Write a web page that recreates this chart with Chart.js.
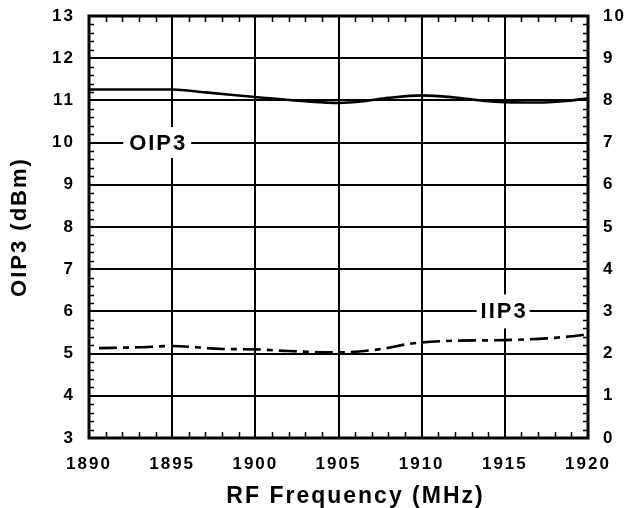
<!DOCTYPE html>
<html><head><meta charset="utf-8">
<script src="https://cdn.jsdelivr.net/npm/chart.js@4.4.1/dist/chart.umd.min.js"></script>
<style>html,body{margin:0;padding:0;background:#fff}#wrap{width:627px;height:508px;position:relative}</style>
</head><body><div id="wrap"><canvas id="c"></canvas></div>
<script>
// ---- data ----
const oipFreq = [1890, 1892, 1895, 1897, 1900, 1903, 1905, 1906.5, 1908, 1910, 1912, 1914, 1915, 1917, 1918.5, 1920];
const oipVals = [11.26, 11.26, 11.26, 11.19, 11.08, 10.98, 10.94, 10.98, 11.06, 11.12, 11.07, 10.98, 10.96, 10.95, 10.98, 11.05];
const iipFreq = [1890.6, 1893, 1895, 1898, 1900, 1902, 1905, 1907.4, 1909.4, 1911.5, 1915, 1917.5, 1919, 1920];
const iipVals = [2.13, 2.15, 2.18, 2.11, 2.10, 2.06, 2.03, 2.10, 2.24, 2.30, 2.32, 2.36, 2.41, 2.46];
const xTickValues = [1890, 1895, 1900, 1905, 1910, 1915, 1920];
const leftTickValues = [3, 4, 5, 6, 7, 8, 9, 10, 11, 12, 13];
const rightTickValues = [0, 1, 2, 3, 4, 5, 6, 7, 8, 9, 10];
const xTitle = 'RF Frequency (MHz)';
const yTitle = 'OIP3 (dBm)';
const seriesLabels = [
  { text: 'OIP3', x: 1894.1, y: 10, axis: 'y', w: 68, h: 31 },
  { text: 'IIP3', x: 1914.9, y: 3, axis: 'y2', w: 53, h: 34 }
];

const FONT = '"Liberation Sans", Arial, sans-serif';

const spacingPlugin = {
  id: 'spacing',
  beforeDraw(chart) { chart.ctx.letterSpacing = '2px'; }
};

const decorPlugin = {
  id: 'decor',
  afterDraw(chart) {
    const ctx = chart.ctx, a = chart.chartArea;
    const xs = chart.scales.x, ys = chart.scales.y, y2 = chart.scales.y2;
    ctx.save();
    ctx.strokeStyle = '#000';
    ctx.lineWidth = 1.5;
    ctx.beginPath();
    for (let f = xs.min + 1; f < xs.max; f++) {
      if (f % 5 === 0) continue;
      const px = Math.round(xs.getPixelForValue(f)) + 0.5;
      ctx.moveTo(px, a.top); ctx.lineTo(px, a.top + 6);
      ctx.moveTo(px, a.bottom); ctx.lineTo(px, a.bottom - 6);
    }
    for (let i = 1; i < 50; i++) {
      if (i % 5 === 0) continue;
      const v = ys.min + i * 0.2;
      const py = Math.round(ys.getPixelForValue(v)) + 0.5;
      ctx.moveTo(a.left, py); ctx.lineTo(a.left + 5, py);
      const v2 = y2.min + i * 0.2;
      const py2 = Math.round(y2.getPixelForValue(v2)) + 0.5;
      ctx.moveTo(a.right, py2); ctx.lineTo(a.right - 5, py2);
    }
    ctx.stroke();
    ctx.lineWidth = 3;
    ctx.strokeRect(a.left, a.top, a.right - a.left, a.bottom - a.top);
    ctx.fillStyle = '#000';
    ctx.textAlign = 'center';
    ctx.textBaseline = 'middle';
    // x axis title
    ctx.font = 'bold 23px ' + FONT;
    ctx.letterSpacing = '2px';
    ctx.fillText(xTitle, (a.left + a.right) / 2 + 17, 497);
    // series labels
    ctx.font = 'bold 22px ' + FONT;
    for (const l of seriesLabels) {
      const px = xs.getPixelForValue(l.x);
      const py = chart.scales[l.axis].getPixelForValue(l.y);
      ctx.fillStyle = '#fff';
      ctx.fillRect(px - l.w / 2, py - l.h / 2, l.w, l.h);
      ctx.fillStyle = '#000';
      ctx.fillText(l.text, px + 1, py + 1);
    }
    ctx.restore();
  }
};

const tickFont = { family: FONT, size: 17, weight: 'bold' };
const fitVertical = w => s => { s.width = w; s.paddingTop = 0; s.paddingBottom = 0; };

new Chart(document.getElementById('c'), {
  type: 'line',
  data: {
    datasets: [
      {
        label: 'OIP3',
        data: oipFreq.map((f, i) => ({ x: f, y: oipVals[i] })),
        yAxisID: 'y',
        borderColor: '#000',
        borderWidth: 2.6,
        pointRadius: 0,
        cubicInterpolationMode: 'monotone',
        fill: false
      },
      {
        label: 'IIP3',
        data: iipFreq.map((f, i) => ({ x: f, y: iipVals[i] })),
        yAxisID: 'y2',
        borderColor: '#000',
        borderWidth: 2.6,
        borderDash: [18, 6, 6, 6],
        pointRadius: 0,
        cubicInterpolationMode: 'monotone',
        fill: false
      }
    ]
  },
  options: {
    responsive: true,
    maintainAspectRatio: false,
    animation: false,
    layout: { padding: { top: 16, right: 0, left: 0, bottom: 0 } },
    plugins: { legend: { display: false }, tooltip: { enabled: false } },
    scales: {
      x: {
        type: 'linear',
        min: 1890, max: 1920,
        afterBuildTicks: s => { s.ticks = xTickValues.map(v => ({ value: v })); },
        afterFit: s => { s.height = 70; },
        ticks: { color: '#000', font: tickFont, padding: 16, maxRotation: 0, autoSkip: false, callback: v => String(v) },
        grid: { color: '#000', lineWidth: 2, drawTicks: false },
        border: { display: false },
        title: { display: false }
      },
      y: {
        position: 'left',
        min: 3, max: 13,
        afterBuildTicks: s => { s.ticks = leftTickValues.map(v => ({ value: v })); },
        afterFit: fitVertical(89),
        ticks: { color: '#000', font: tickFont, padding: 14, callback: v => String(v) },
        grid: { color: '#000', lineWidth: 2, drawTicks: false },
        border: { display: false },
        title: { display: true, text: yTitle, color: '#000', font: { family: FONT, size: 22, weight: 'bold', lineHeight: 1 }, padding: { top: 9, bottom: 0 } }
      },
      y2: {
        position: 'right',
        min: 0, max: 10,
        afterBuildTicks: s => { s.ticks = rightTickValues.map(v => ({ value: v })); },
        afterFit: fitVertical(39),
        ticks: { color: '#000', font: tickFont, padding: 15, callback: v => String(v) },
        grid: { drawOnChartArea: false, drawTicks: false },
        border: { display: false }
      }
    }
  },
  plugins: [spacingPlugin, decorPlugin]
});
</script>
</body></html>
